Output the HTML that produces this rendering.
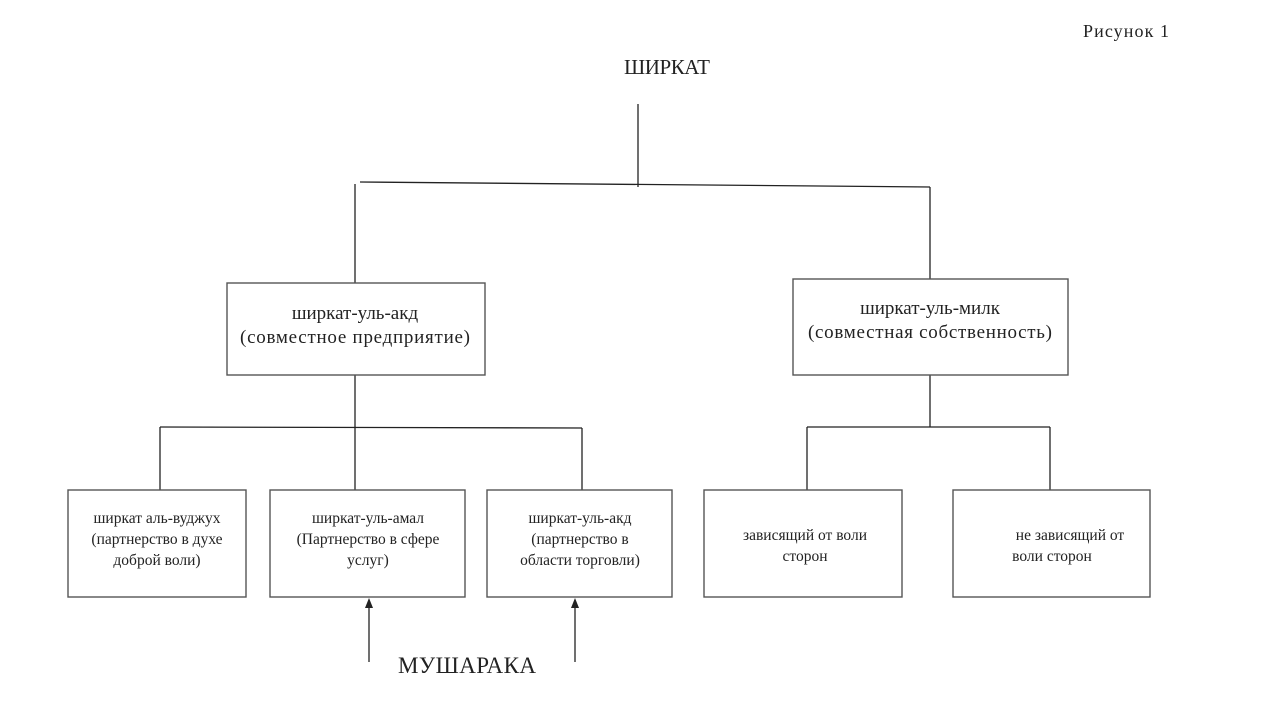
<!DOCTYPE html>
<html><head><meta charset="utf-8"><style>
html,body{margin:0;padding:0;background:#fff;width:1280px;height:711px;overflow:hidden}
text{font-family:"Liberation Serif",serif;fill:#222}
</style></head><body>
<svg width="1280" height="711" viewBox="0 0 1280 711" xmlns="http://www.w3.org/2000/svg">
<g stroke="#222" stroke-width="1.3" fill="none">
<line x1="638" y1="104" x2="638" y2="187"/>
<line x1="360" y1="182" x2="930" y2="187"/>
<line x1="355" y1="184" x2="355" y2="283"/>
<line x1="930" y1="187" x2="930" y2="279"/>
<line x1="355" y1="375" x2="355" y2="490"/>
<line x1="160" y1="427" x2="582" y2="428"/>
<line x1="160" y1="427" x2="160" y2="490"/>
<line x1="582" y1="428" x2="582" y2="490"/>
<line x1="930" y1="375" x2="930" y2="427"/>
<line x1="807" y1="427" x2="1050" y2="427"/>
<line x1="807" y1="427" x2="807" y2="490"/>
<line x1="1050" y1="427" x2="1050" y2="490"/>
<line x1="369" y1="662" x2="369" y2="605"/>
<line x1="575" y1="662" x2="575" y2="605"/>
</g>
<g stroke="#555" stroke-width="1.4" fill="#fff">
<rect x="227" y="283" width="258" height="92"/>
<rect x="793" y="279" width="275" height="96"/>
<rect x="68" y="490" width="178" height="107"/>
<rect x="270" y="490" width="195" height="107"/>
<rect x="487" y="490" width="185" height="107"/>
<rect x="704" y="490" width="198" height="107"/>
<rect x="953" y="490" width="197" height="107"/>
</g>
<polygon points="369,598 365,608 373,608" fill="#222"/>
<polygon points="575,598 571,608 579,608" fill="#222"/>
<text x="1083" y="37" font-size="18" textLength="86">Рисунок 1</text>
<text x="624" y="74" font-size="21" textLength="86">ШИРКАТ</text>
<text x="398" y="673" font-size="23" textLength="138">МУШАРАКА</text>
<g font-size="19" text-anchor="middle">
<text x="355" y="319">ширкат-уль-акд</text>
<text x="355" y="343" textLength="230">(совместное предприятие)</text>
<text x="930" y="314">ширкат-уль-милк</text>
<text x="930" y="338" textLength="244">(совместная собственность)</text>
</g>
<g font-size="15.5" text-anchor="middle">
<text x="157" y="523">ширкат аль-вуджух</text>
<text x="157" y="544">(партнерство в духе</text>
<text x="157" y="565">доброй воли)</text>
<text x="368" y="523">ширкат-уль-амал</text>
<text x="368" y="544">(Партнерство в сфере</text>
<text x="368" y="565">услуг)</text>
<text x="580" y="523">ширкат-уль-акд</text>
<text x="580" y="544">(партнерство в</text>
<text x="580" y="565">области торговли)</text>
<text x="805" y="540">зависящий от воли</text>
<text x="805" y="561">сторон</text>
<text x="1070" y="540">не зависящий от</text>
<text x="1052" y="561">воли сторон</text>
</g>
</svg>
</body></html>
